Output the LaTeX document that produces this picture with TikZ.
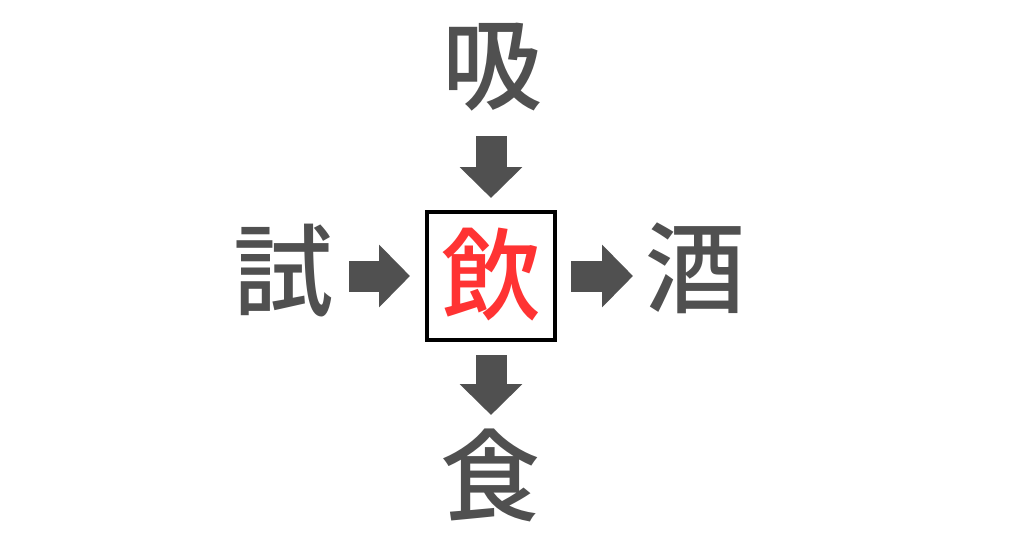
\documentclass[tikz,border=0pt]{standalone}
\usepackage{fontspec}
\newfontfamily\cjk{Noto Sans CJK JP Medium}
\usetikzlibrary{arrows.meta,calc}
\definecolor{kgray}{HTML}{505050}
\definecolor{kred}{HTML}{FF3333}
\tikzset{
  kanji/.style={inner sep=0pt, text=kgray, font=\cjk\fontsize{100pt}{100pt}\selectfont},
  centerbox/.style={draw=black, line width=4pt, minimum width=128pt, minimum height=128pt, inner sep=0pt},
  bigarrow/.style={draw=kgray, line width=31pt, line cap=butt,
    -{Triangle[width=61pt,length=31pt,fill=kgray]}}
}
\begin{document}
\begin{tikzpicture}[x=1pt,y=-1pt]
\useasboundingbox (0,0) rectangle (1024,538);
\node[centerbox] (box) at (491,276) {};
\node[kanji, text=kred] (in) at (491,275) {飲};
\node[kanji] (xi) at (492,67.5) {吸};
\node[kanji] (shi) at (283.5,271) {試};
\node[kanji] (sake) at (695.5,268.5) {酒};
\node[kanji] (shoku) at (490.5,475.5) {食};
\draw[bigarrow] ($(box.north)+(0,-74)$) -- ($(box.north)+(0,-12)$);
\draw[bigarrow] ($(box.west)+(-76,0)$) -- ($(box.west)+(-15,0)$);
\draw[bigarrow] ($(box.east)+(14,0)$) -- ($(box.east)+(76,0)$);
\draw[bigarrow] ($(box.south)+(0,13)$) -- ($(box.south)+(0,73)$);
\end{tikzpicture}
\end{document}
